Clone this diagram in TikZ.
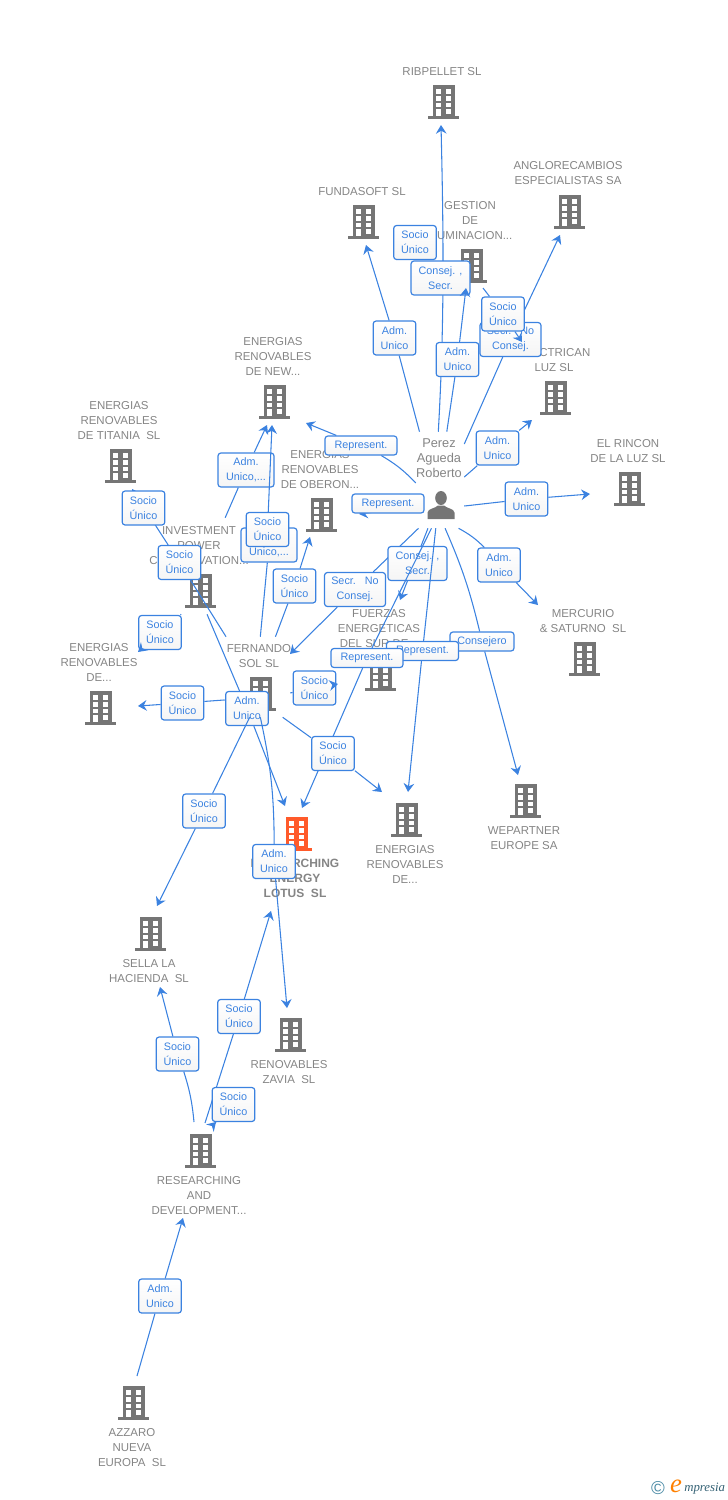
\documentclass[tikz,border=0pt]{standalone}
\usepackage{fontspec}
\usepackage{xcolor}
\setmainfont{Liberation Sans}
\newfontfamily\logofont{Liberation Serif}
\usetikzlibrary{arrows.meta,positioning,calc}

\definecolor{linkblue}{HTML}{3B82E0}
\definecolor{iconline}{HTML}{757575}
\definecolor{labelgray}{HTML}{858585}
\definecolor{hitorange}{HTML}{FF5A2A}
\definecolor{logoteal}{HTML}{4A8AA5}

\newcommand{\buildingicon}[1]{%
  \begin{scope}[shift={(path picture bounding box.center)}]
    \fill[#1] (-11,-16) rectangle (11,15);
    \fill[#1] (-16,15) rectangle (15,18);
    \foreach \wy in {-11.7,-5,1.7} {
      \fill[white] (-8,\wy) rectangle (-3,\wy+4.5);
      \fill[white] (2,\wy) rectangle (7,\wy+4.5);
    }
    \fill[white] (-8,8.3) rectangle (-3,15);
    \fill[white] (2,8.3) rectangle (7,12.8);
  \end{scope}}

\begin{document}
\begin{tikzpicture}[x=0.75pt, y=-0.75pt,
    company/.style={rectangle, inner sep=0pt, minimum width=24pt, minimum height=27pt,
      path picture={\buildingicon{iconline}}},
    target/.style={rectangle, inner sep=0pt, minimum width=24pt, minimum height=27pt,
      path picture={\buildingicon{hitorange}}},
    hub/.style={rectangle, inner sep=0pt},
    lbl/.style={inner sep=0pt, align=center, text=labelgray, xshift=-1.5pt,
      font=\fontsize{8.6}{11.25}\selectfont},
    tag/.style={rectangle, rounded corners=2.2pt, draw=linkblue, line width=0.9pt,
      top color=white, bottom color=black!4, text=linkblue, inner sep=0pt, align=center,
      minimum width=32pt, minimum height=25.5pt, font=\fontsize{8.1}{11.25}\selectfont},
    flat/.style={tag, minimum height=14.25pt},
    link/.style={linkblue, line width=0.8pt},
    arrow/.style={link, -{Stealth[length=6.5pt, width=8pt, inset=2.2pt]}}]
    \useasboundingbox (0,0) rectangle (728,1500);

    \node[company] (ribpellet) at (444,101) {};
    \node[company] (angloreca) at (570,211) {};
    \node[company] (fundasoft) at (364,221) {};
    \node[company] (gestion) at (472,265) {};
    \node[company] (electrican) at (556,397) {};
    \node[company] (newren) at (275,401) {};
    \node[company] (rincon) at (630,488) {};
    \node[company] (titania) at (121,465) {};
    \node[company] (oberon) at (322,514) {};
    \node[company] (investment) at (201,590) {};
    \node[company] (mercurio) at (585,658) {};
    \node[company] (fuerzas) at (381,673) {};
    \node[company] (deleft) at (101,707) {};
    \node[company] (fernando) at (261,693) {};
    \node[target] (lotus) at (297,833) {};
    \node[company] (deright) at (407,819) {};
    \node[company] (wepartner) at (526,800) {};
    \node[company] (sella) at (151,933) {};
    \node[company] (zavia) at (291,1034) {};
    \node[company] (research) at (201,1150) {};
    \node[company] (azzaro) at (134,1402) {};

    \node[lbl, above=5pt of ribpellet] (lribpellet) {RIBPELLET SL};
    \node[lbl, above=5.7pt of angloreca] (langloreca) {ANGLORECAMBIOS\\ESPECIALISTAS SA};
    \node[lbl, above=5pt of fundasoft] (lfundasoft) {FUNDASOFT SL};
    \node[lbl, above=5pt of gestion] (lgestion) {GESTION\\DE\\ILUMINACION...};
    \node[lbl, above=5pt of electrican] (lelectrican) {ELECTRICAN\\LUZ SL};
    \node[lbl, above=5pt of newren] (lnewren) {ENERGIAS\\RENOVABLES\\DE NEW...};
    \node[lbl, above=5pt of rincon] (lrincon) {EL RINCON\\DE LA LUZ SL};
    \node[lbl, above=5pt of titania] (ltitania) {ENERGIAS\\RENOVABLES\\DE TITANIA~~SL};
    \node[lbl, above=5pt of oberon] (loberon) {ENERGIAS\\RENOVABLES\\DE OBERON...};
    \node[lbl, above=5pt of investment] (linvestment) {INVESTMENT\\POWER\\CONSERVATION...};
    \node[lbl, above=5pt of mercurio] (lmercurio) {MERCURIO\\\&~SATURNO~~SL};
    \node[lbl, above=5pt of fuerzas] (lfuerzas) {FUERZAS\\ENERGETICAS\\DEL SUR DE...};
    \node[lbl, above=5pt of deleft] (ldeleft) {ENERGIAS\\RENOVABLES\\DE...};
    \node[lbl, above=5pt of fernando] (lfernando) {FERNANDO\\SOL SL};
    \node[lbl, below=6pt of lotus, font=\fontsize{9}{11.25}\selectfont\bfseries] (llotus) {RESEARCHING\\ENERGY\\LOTUS~~SL};
    \node[lbl, below=6pt of deright] (lderight) {ENERGIAS\\RENOVABLES\\DE...};
    \node[lbl, below=6pt of wepartner] (lwepartner) {WEPARTNER\\EUROPE SA};
    \node[lbl, below=6pt of sella] (lsella) {SELLA LA\\HACIENDA~~SL};
    \node[lbl, below=6pt of zavia] (lzavia) {RENOVABLES\\ZAVIA~~SL};
    \node[lbl, below=6pt of research] (lresearch) {RESEARCHING\\AND\\DEVELOPMENT...};
    \node[lbl, below=6pt of azzaro] (lazzaro) {AZZARO\\NUEVA\\EUROPA~~SL};

    \node[hub, minimum width=36pt, minimum height=72pt] (perez) at (440,480) {};
    \node[hub, minimum width=48.75pt, minimum height=60pt] (fernandohub) at (257.5,677) {};
    \node[hub, minimum width=67.5pt, minimum height=72pt] (investhub) at (195,566) {};
    \node[lbl, xshift=1.5pt, font=\fontsize{9.6}{11.25}\selectfont] (lperez) at (439,458) {Perez\\Agueda\\Roberto};
    \node[hub, minimum width=21pt, minimum height=21pt, path picture={
      \begin{scope}[shift={(path picture bounding box.center)}]
        \fill[iconline] (0,-7.5) ellipse (5.8 and 7);
        \fill[iconline] (-13.5,13.5) -- (-13.5,7) .. controls (-13,3) and (-6,3) .. (-3,0)
          -- (3,0) .. controls (6,3) and (13,3) .. (13.5,7) -- (13.5,13.5) -- cycle;
      \end{scope}}] (person) at (441,505.5) {};

    \coordinate (ribpellet-in) at (441,125);
    \coordinate (angloreca-in) at (560,235);
    \coordinate (fundasoft-in) at (366,245);
    \coordinate (gestion-in) at (466,288);
    \coordinate (gestion-out) at (483,288);
    \coordinate (electrican-in) at (522,342);
    \coordinate (electrican-top) at (532,420);
    \coordinate (newren-in) at (306,423);
    \coordinate (newren-inb) at (267,425);
    \coordinate (newren-inc) at (272,425);
    \coordinate (rincon-in) at (590,494);
    \coordinate (titania-in) at (132,489);
    \coordinate (oberon-in) at (310,537);
    \coordinate (oberon-inb) at (359,514);
    \coordinate (mercurio-in) at (538,605);
    \coordinate (fuerzas-in) at (400,600);
    \coordinate (fuerzas-inb) at (338,684);
    \coordinate (fernando-in) at (290,654);
    \coordinate (deleft-in) at (138,652);
    \coordinate (deleft-inb) at (138,706);
    \coordinate (lotus-in) at (285,806);
    \coordinate (lotus-inb) at (302,808);
    \coordinate (lotus-inc) at (271,911);
    \coordinate (deright-in) at (408,792);
    \coordinate (deright-inb) at (382,792);
    \coordinate (wepartner-in) at (518,775);
    \coordinate (sella-in) at (157,906);
    \coordinate (sella-inb) at (160,987);
    \coordinate (zavia-in) at (287,1008);
    \coordinate (research-in) at (183,1218);
    \coordinate (research-inb) at (216,1122);
    \coordinate (research-outa) at (194,1122);
    \coordinate (research-outb) at (205,1123);
    \coordinate (azzaro-out) at (137,1376);

    \node[tag] (tsociofs) at (415,242.5) {Socio\\Único};

    \draw[arrow] (perez.92) .. controls (444,330) and (444,250) .. (ribpellet-in);
    \node[tag, minimum width=44.25pt] (tribpellet) at (440.5,278) {Consej. ,\\Secr.};

    \node[tag] (tgestion) at (457.5,359.5) {Adm.\\Unico};
    \draw[link] (perez.82) -- (tgestion);
    \draw[arrow] (tgestion) -- (gestion-in);

    \node[tag] (tfundasoft) at (394.5,338) {Adm.\\Unico};
    \draw[link] (perez.113) -- (tfundasoft);
    \draw[arrow] (tfundasoft) -- (fundasoft-in);

    \node[tag, minimum width=45.75pt] (tangloreca) at (510.5,339.5) {Secr.~~~No\\Consej.};
    \draw[link] (perez.56) -- (tangloreca);
    \draw[arrow] (tangloreca) -- (angloreca-in);

    \node[tag] (telectrican) at (503,314) {Socio\\Único};
    \draw[link] (gestion-out) -- (telectrican);
    \draw[arrow] (telectrican) -- (electrican-in);

    \node[tag] (tluz) at (497.5,448) {Adm.\\Unico};
    \draw[link] (perez.7) -- (tluz);
    \draw[arrow] (tluz) -- (electrican-top);

    \node[tag] (trincon) at (526.5,499) {Adm.\\Unico};
    \draw[link] (perez.-47) -- (trincon);
    \draw[arrow] (trincon) -- (rincon-in);

    \node[tag] (tmercurio) at (499,565) {Adm.\\Unico};
    \draw[link] (perez.-69) to[bend left=8] (tmercurio);
    \draw[arrow] (tmercurio) -- (mercurio-in);

    \node[flat, minimum width=54pt] (tnewp) at (361,445.5) {Represent.};
    \draw[link] (perez.187) to[bend right=8] (tnewp);
    \draw[arrow] (tnewp) -- (newren-in);

    \draw[arrow] (perez.228) -- (oberon-inb);
    \node[flat, minimum width=54pt] (toberonp) at (388,503.5) {Represent.};

    \node[tag, minimum width=45.75pt] (tfernandop) at (355,589.5) {Secr.~~~No\\Consej.};
    \draw[link] (perez.-114) -- (tfernandop);
    \draw[arrow] (tfernandop) -- (fernando-in);

    \draw[arrow] (perez.-104) -- (fuerzas-in);
    \node[tag, minimum width=44.25pt] (tfuerzas) at (417.5,563.5) {Consej. ,\\Secr.};

    \node[flat, minimum width=48pt] (twepartner) at (482,641.5) {Consejero};
    \draw[link] (perez.-84) to[bend left=5] (twepartner);
    \draw[arrow] (twepartner) -- (wepartner-in);

    \node[flat, minimum width=54pt] (tderight) at (422.5,651) {Represent.};
    \draw[link] (perez.-95) -- (tderight);
    \draw[arrow] (tderight) -- (deright-in);

    \node[flat, minimum width=54pt] (tlotusp) at (367,658) {Represent.};
    \draw[link] (perez.-100) -- (tlotusp);
    \draw[arrow] (tlotusp) -- (lotus-inb);

    \node[tag, minimum width=42pt] (tnewi) at (246,470) {Adm.\\Unico,...};
    \draw[link] (investhub.58) -- (tnewi);
    \draw[arrow] (tnewi) -- (newren-inb);

    \node[tag, minimum width=42pt] (tnewa) at (269,545) {Adm.\\Unico,...};
    \draw[link] (fernandohub.86) -- (tnewa);
    \node[tag] (tnews) at (267.5,529.5) {Socio\\Único};
    \draw[arrow] (tnews) -- (newren-inc);

    \node[tag] (toberon) at (294.5,586) {Socio\\Único};
    \draw[link] (fernandohub.66) -- (toberon);
    \draw[arrow] (toberon) -- (oberon-in);

    \node[tag] (ttitaniaf) at (179.5,562.5) {Socio\\Único};
    \draw[link] (fernandohub.128) -- (ttitaniaf);
    \draw[arrow] (ttitaniaf) -- (titania-in);

    \node[tag] (ttitaniai) at (143.5,508) {Socio\\Único};

    \node[tag] (tdelefti) at (160,632.5) {Socio\\Único};
    \draw[link] (investhub.-106) -- (tdelefti);
    \draw[arrow] (tdelefti) -- (deleft-in);

    \node[tag] (tdeleftf) at (182.5,703) {Socio\\Único};
    \draw[link] (fernandohub.215) -- (tdeleftf);
    \draw[arrow] (tdeleftf) -- (deleft-inb);

    \node[tag] (tlotusa) at (247,708.5) {Adm.\\Unico};
    \draw[link] (investhub.-76) -- (tlotusa);
    \draw[arrow] (tlotusa) -- (lotus-in);

    \node[tag] (tfuerzas2) at (314.5,688) {Socio\\Único};
    \draw[link] (fernandohub.-26) -- (tfuerzas2);
    \draw[arrow] (tfuerzas2) -- (fuerzas-inb);

    \node[tag] (tderightf) at (333,753.5) {Socio\\Único};
    \draw[link] (fernandohub.-58) -- (tderightf);
    \draw[arrow] (tderightf) -- (deright-inb);

    \node[tag] (tsella) at (204,811) {Socio\\Único};
    \draw[link] (fernandohub.-101) -- (tsella);
    \draw[arrow] (tsella) -- (sella-in);

    \node[tag] (tzavia) at (274,861.5) {Adm.\\Unico};
    \draw[link] (fernandohub.-86) to[bend left=6] (tzavia);
    \draw[arrow] (tzavia) -- (zavia-in);

    \node[tag] (tsellar) at (177.5,1054) {Socio\\Único};
    \draw[link] (research-outa) to[bend right=6] (tsellar);
    \draw[arrow] (tsellar) -- (sella-inb);

    \node[tag] (tlotusr) at (239,1016.5) {Socio\\Único};
    \draw[link] (research-outb) -- (tlotusr);
    \draw[arrow] (tlotusr) -- (lotus-inc);

    \node[tag] (tresearchb) at (233.5,1104.5) {Socio\\Único};
    \draw[arrow] (tresearchb) -- (research-inb);

    \node[tag] (tresearch) at (160,1296) {Adm.\\Unico};
    \draw[link] (azzaro-out) -- (tresearch);
    \draw[arrow] (tresearch) -- (research-in);

    \node[inner sep=0pt, text=logoteal, font=\fontsize{14}{14}\selectfont] (copyr) at (658,1488.5) {©};
    \node[inner sep=0pt, text=orange, font=\logofont\itshape\fontsize{20}{20}\selectfont] (logoe) at (676,1486) {e};
    \node[inner sep=0pt, text=logoteal!70!black, font=\logofont\itshape\fontsize{9.6}{9.6}\selectfont, anchor=west] (logotext) at (684,1489) {mpresia};
\end{tikzpicture}
\end{document}
